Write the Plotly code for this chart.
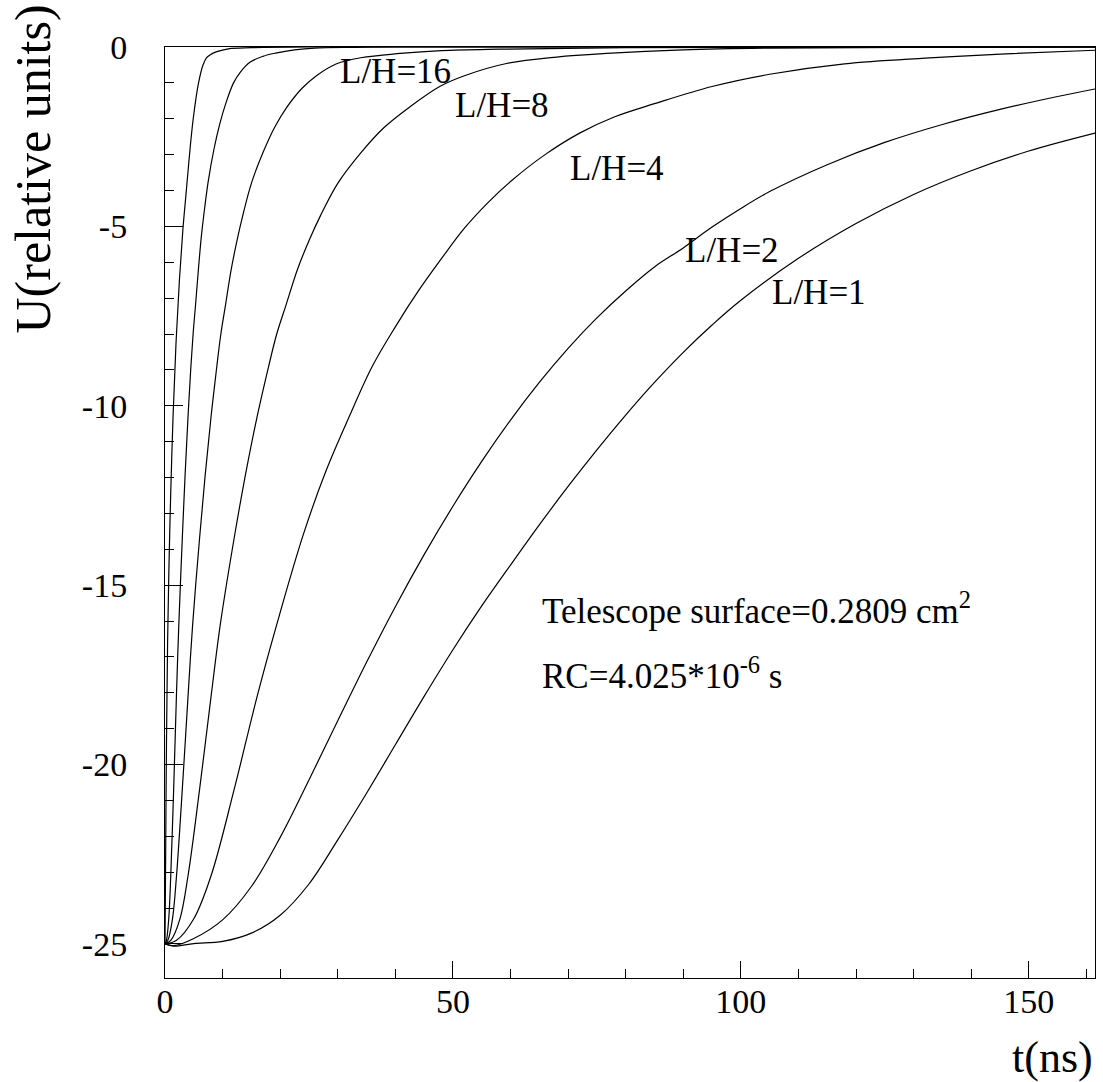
import plotly.graph_objects as go

# ---- data ----
t64 = [0, 0.1, 0.25, 0.45, 0.7, 1.0, 1.4, 1.9, 2.5, 3.1, 3.65, 4.2, 4.9, 5.8, 6.6, 7.2, 7.8, 9.0, 11.0, 15.0, 25.0, 161.5]
u64 = [-25, -22.8, -19.5, -16.6, -14.4, -12.4, -10.3, -8.3, -6.5, -5.1, -4.1, -3.1, -2.0, -1.02, -0.5, -0.3, -0.22, -0.13, -0.05, -0.02, 0, 0]

t32 = [0, 0.25, 0.65, 1.0, 1.5, 2.0, 2.4, 3.0, 3.5, 4.0, 4.5, 4.9, 5.3, 5.8, 6.3, 6.8, 7.5, 8.5, 9.5, 10.6, 11.9, 13.0, 14.8, 17.0, 19.2, 22.5, 26.0, 33.0, 40.0, 161.5]
u32 = [-25, -24.9, -24.3, -23.1, -20.7, -18.0, -16.1, -13.7, -11.9, -10.3, -8.9, -7.95, -7.2, -6.2, -5.3, -4.6, -3.75, -2.85, -2.15, -1.55, -1.0, -0.72, -0.42, -0.26, -0.17, -0.08, -0.03, -0.01, 0, 0]

t16 = [0, 0.5, 1.3, 2.0, 3.0, 4.0, 4.8, 6.0, 7.0, 8.0, 9.0, 9.7, 10.5, 11.5, 12.5, 13.5, 15.0, 17.0, 19.0, 21.2, 23.8, 26.3, 29.6, 34.0, 40.8, 48.0, 58.0, 80.0, 161.5]
u16 = [-25, -24.9, -24.3, -23.1, -20.7, -18.1, -16.1, -13.7, -11.9, -10.3, -8.9, -8.0, -7.2, -6.2, -5.4, -4.7, -3.8, -2.95, -2.25, -1.67, -1.15, -0.8, -0.48, -0.3, -0.18, -0.1, -0.06, -0.02, 0]

t8 = [0, 1.0, 2.6, 4.0, 6.0, 8.0, 9.6, 12.0, 14.0, 16.0, 18.0, 19.4, 21.0, 23.0, 25.0, 27.0, 30.0, 34.0, 38.0, 42.5, 47.7, 52.0, 59.3, 68.0, 76.7, 90.0, 105.0, 130.0, 161.5]
u8 = [-25, -24.9, -24.3, -23.1, -20.7, -18.1, -16.1, -13.7, -11.9, -10.3, -8.9, -8.0, -7.2, -6.2, -5.4, -4.7, -3.8, -2.95, -2.25, -1.67, -1.1, -0.8, -0.46, -0.28, -0.18, -0.08, -0.03, -0.01, 0]

t4 = [0, 2.0, 5.0, 8.0, 12.0, 16.0, 19.4, 24.0, 28.0, 32.0, 36.0, 40.0, 44.0, 48.0, 52.0, 56.0, 60.0, 66.0, 72.0, 78.0, 85.0, 95.0, 105.0, 118.0, 132.0, 146.0, 161.5]
u4 = [-25, -24.9, -24.3, -23.1, -20.7, -18.1, -16.1, -13.6, -11.8, -10.3, -8.9, -7.8, -6.8, -5.9, -5.05, -4.35, -3.75, -3.0, -2.4, -1.95, -1.58, -1.1, -0.76, -0.47, -0.31, -0.19, -0.09]

t2 = [0, 1.5, 5.0, 10.0, 15.0, 20.0, 25.0, 30.0, 35.0, 40.0, 45.0, 50.0, 55.0, 60.0, 65.0, 70.0, 75.0, 80.0, 85.0, 90.0, 95.0, 100.0, 105.0, 115.0, 125.0, 135.0, 145.0, 155.0, 161.5]
u2 = [-25, -25.05, -24.85, -24.33, -23.4, -22.03, -20.43, -18.78, -17.15, -15.6, -14.15, -12.8, -11.55, -10.4, -9.35, -8.4, -7.55, -6.8, -6.13, -5.6, -5.02, -4.5, -4.03, -3.28, -2.66, -2.16, -1.74, -1.38, -1.17]

t1 = [0, 1.5, 5.0, 10.0, 15.0, 20.0, 25.0, 30.0, 35.0, 40.0, 45.0, 50.0, 55.0, 60.0, 65.0, 70.0, 75.0, 80.0, 85.0, 90.0, 95.0, 100.0, 110.0, 120.0, 130.0, 140.0, 150.0, 161.5]
u1 = [-25, -25.06, -24.99, -24.93, -24.7, -24.2, -23.33, -22.1, -20.8, -19.45, -18.1, -16.8, -15.58, -14.44, -13.32, -12.25, -11.23, -10.26, -9.35, -8.51, -7.75, -7.06, -5.89, -4.92, -4.11, -3.45, -2.9, -2.4]

curve_t = [t64, t32, t16, t8, t4, t2, t1]
curve_u = [u64, u32, u16, u8, u4, u2, u1]

# curve labels and their anchor positions (data coordinates)
label_text = ["L/H=64", "L/H=32", "L/H=16", "L/H=8", "L/H=4", "L/H=2", "L/H=1"]
label_t = [-5.2, 22.0, 30.0, 50.0, 70.0, 90.0, 105.0]
label_u = [0.61, 0.61, -0.69, -1.63, -3.38, -5.66, -6.85]

x_tickvals = [0, 50, 100, 150]
x_ticktext = ["0", "50", "100", "150"]
y_tickvals = [0, -5, -10, -15, -20, -25]
y_ticktext = ["0", "-5", "-10", "-15", "-20", "-25"]

FONT = "Liberation Serif"

fig = go.Figure()
for tt, uu in zip(curve_t, curve_u):
    fig.add_trace(go.Scatter(x=tt, y=uu, mode="lines",
                             line=dict(color="black", width=1.2, shape="spline", smoothing=1.0),
                             showlegend=False, hoverinfo="skip"))

annotations = []
for txt, lt, lu in zip(label_text, label_t, label_u):
    annotations.append(dict(x=lt, y=lu, xref="x", yref="y", text=txt, showarrow=False,
                            xanchor="left", yanchor="middle",
                            font=dict(family=FONT, size=35, color="black")))

annotations.append(dict(x=65.1, y=-15.66, xref="x", yref="y",
                        text="Telescope surface=0.2809 cm<sup>2</sup>", showarrow=False,
                        xanchor="left", yanchor="middle",
                        font=dict(family=FONT, size=35, color="black")))
annotations.append(dict(x=65.1, y=-17.45, xref="x", yref="y",
                        text="RC=4.025*10<sup>-6</sup> s", showarrow=False,
                        xanchor="left", yanchor="middle",
                        font=dict(family=FONT, size=35, color="black")))

# axis titles (ROOT style: right/top aligned)
annotations.append(dict(x=1.0, y=0, xref="paper", yref="paper", yshift=-53,
                        text="t(ns)", showarrow=False, xanchor="right", yanchor="top",
                        font=dict(family=FONT, size=44, color="black")))
annotations.append(dict(x=0, y=1.0, xref="paper", yref="paper", xshift=-133, yshift=44,
                        text="U(relative units)", showarrow=False, textangle=-90,
                        xanchor="center", yanchor="top",
                        font=dict(family=FONT, size=50, color="black")))

fig.update_layout(
    width=1103, height=1082, autosize=False,
    margin=dict(l=165, r=8, t=47, b=104),
    paper_bgcolor="white", plot_bgcolor="white",
    annotations=annotations,
    xaxis=dict(range=[0, 161.5], showgrid=False, zeroline=False,
               showline=True, linecolor="black", linewidth=1, mirror=True,
               ticks="inside", ticklen=17, tickwidth=1, tickcolor="black",
               tickmode="array", tickvals=x_tickvals, ticktext=x_ticktext,
               tickfont=dict(family=FONT, size=34, color="black"),
               ticklabelstandoff=-7,
               minor=dict(ticks="inside", ticklen=9, tickwidth=1, tickcolor="black",
                          tick0=0, dtick=10, showgrid=False)),
    yaxis=dict(range=[-25.95, 0], showgrid=False, zeroline=False,
               showline=True, linecolor="black", linewidth=1, mirror=True,
               ticks="inside", ticklen=18, tickwidth=1, tickcolor="black",
               tickmode="array", tickvals=y_tickvals, ticktext=y_ticktext,
               tickfont=dict(family=FONT, size=34, color="black"),
               ticklabelstandoff=30,
               minor=dict(ticks="inside", ticklen=9, tickwidth=1, tickcolor="black",
                          tick0=0, dtick=1, showgrid=False)),
)

fig.write_html("out.html")
